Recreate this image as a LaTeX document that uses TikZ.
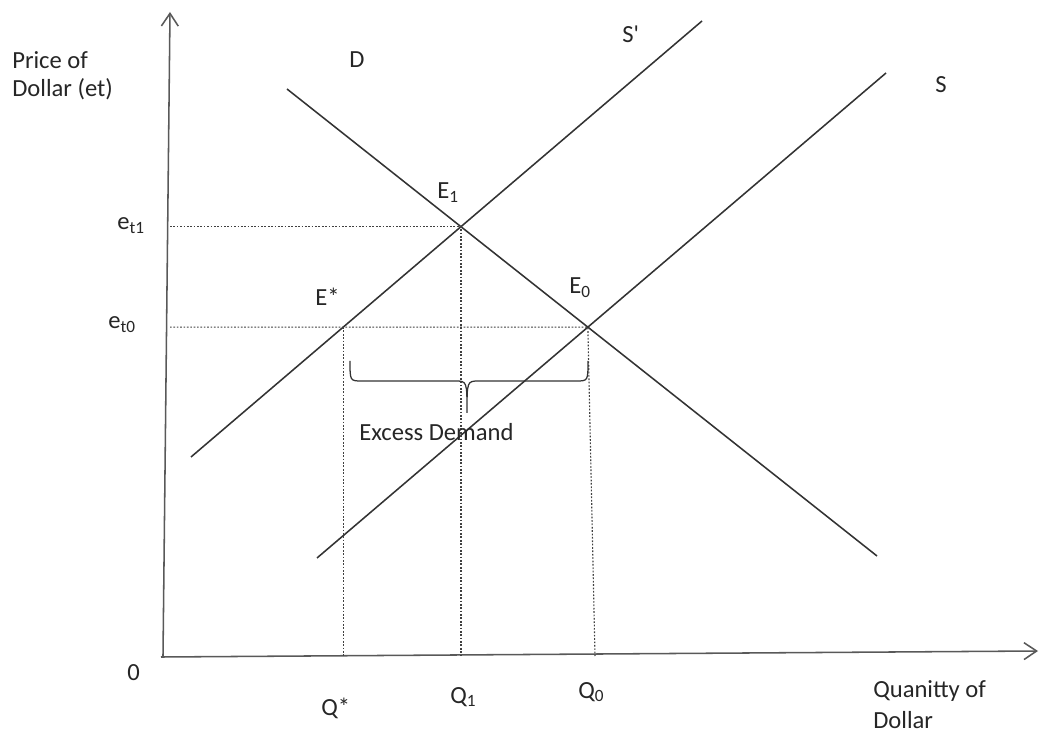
\documentclass[tikz,border=0pt]{standalone}
\usepackage{fontspec}
\setmainfont{Carlito}
\usetikzlibrary{arrows.meta}
\begin{document}
\begin{tikzpicture}[x=0.025cm, y=-0.025cm, every node/.style={font=\fontsize{17.5}{20.6}\selectfont, text=black!85, inner sep=0pt, anchor=base west}]
\tikzset{
  axis/.style={line width=1.1pt, draw=black!65, -{Straight Barb[length=9pt,width=12pt]}},
  curve/.style={line width=1.1pt, draw=black!80},
  guide/.style={line width=0.8pt, draw=black!75, dash pattern=on 1.2pt off 1.2pt}
}
\useasboundingbox (0,0) rectangle (1040,734);
% --- assi ---
\coordinate (o) at (163,656);
\coordinate (ytop) at (170,12);
\coordinate (xo) at (161,657);
\coordinate (xend) at (1038,651);
\draw[axis] (o) -- (ytop);
\draw[axis] (xo) -- (xend);
% --- curve D, S', S ---
\coordinate (d1) at (287,89);
\coordinate (d2) at (877,556);
\coordinate (sp1) at (191,457);
\coordinate (sp2) at (702,21);
\coordinate (s1) at (317,558);
\coordinate (s2) at (886,73);
\draw[curve] (d1) -- (d2);
\draw[curve] (sp1) -- (sp2);
\draw[curve] (s1) -- (s2);
% --- equilibri ---
\coordinate (E1) at (intersection of d1--d2 and sp1--sp2);
\coordinate (E0) at (intersection of d1--d2 and s1--s2);
\coordinate (et1) at (E1 -| ytop);
\coordinate (et0) at (E0 -| ytop);
\coordinate (Es) at (intersection of sp1--sp2 and et0--E0);
\coordinate (qs) at (Es |- o);
\coordinate (q1) at (E1 |- o);
\coordinate (q0) at (595,656);
\draw[guide] (et1) -- (E1) -- (q1);
\draw[guide] (et0) -- (E0) -- (q0);
\draw[guide] (Es) -- (qs);
% --- parentesi ---
\draw[curve, line width=0.9pt] (350,361) .. controls (350,381) .. (362,381) -- (455,381)
  .. controls (467,381) .. (467,413) .. controls (467,381) .. (479,381) -- (576,381)
  .. controls (588,381) .. (588,361);
% --- etichette ---
\node[align=left] (ylab) at (12,97) {Price of\\Dollar (et)};
\node[align=left, font=\fontsize{17.5}{22}\selectfont] (xlab) at (873,728) {Quanitty of\\Dollar};
\node (lD) at (349,68) {D};
\node (lSp) at (622,43) {S\textquotesingle};
\node (lS) at (935,93) {S};
\node (lE1) at (437,199) {E\textsubscript{1}};
\node (lEs) at (315,306) {E*};
\node (lE0) at (569,294) {E\textsubscript{0}};
\node (let1) at (117,230) {e\textsubscript{t1}};
\node (let0) at (108,329) {e\textsubscript{t0}};
\node (lo) at (127,680) {0};
\node (lQs) at (321,715) {Q*};
\node (lQ1) at (450,703) {Q\textsubscript{1}};
\node (lQ0) at (578,698) {Q\textsubscript{0}};
\node (lex) at (359,441) {Excess Demand};
\end{tikzpicture}
\end{document}
